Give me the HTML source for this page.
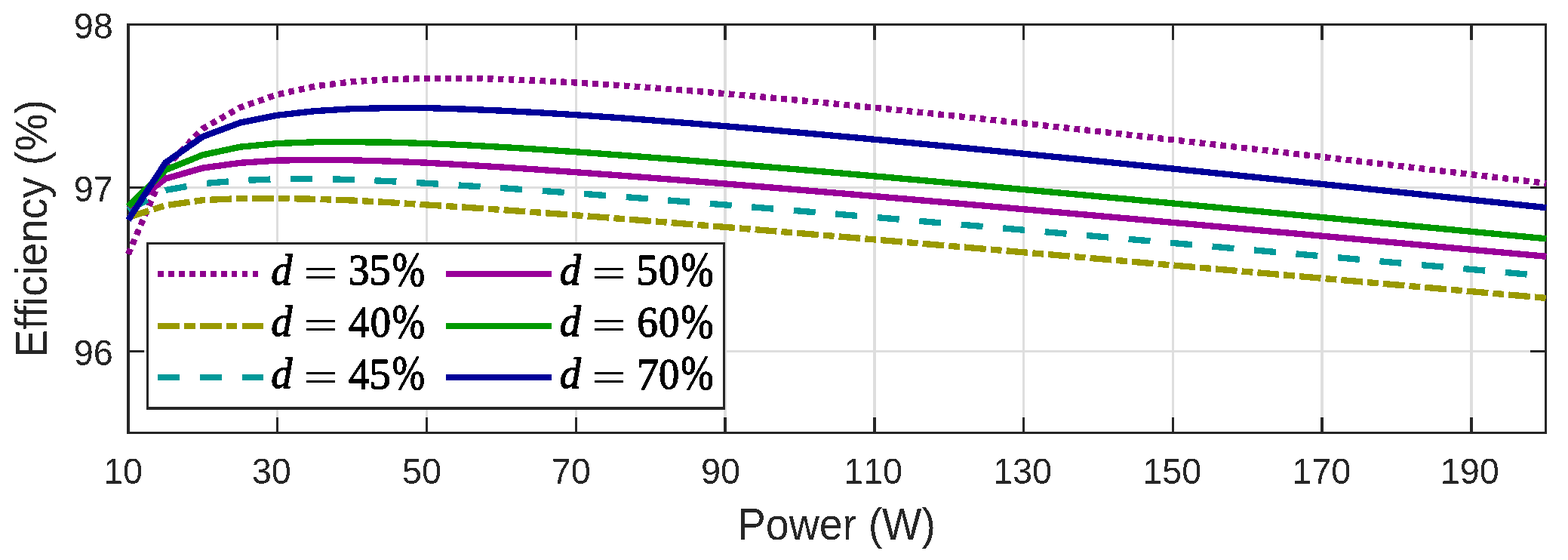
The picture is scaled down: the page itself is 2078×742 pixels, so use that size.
<!DOCTYPE html>
<html lang="en"><head><meta charset="utf-8"><title>Efficiency vs Power</title>
<style>
html,body{margin:0;padding:0;background:#fff;}
body{width:2078px;height:742px;overflow:hidden;}
svg{display:block;}
.sans{font-family:"Liberation Sans",Arial,Helvetica,sans-serif;fill:#262626;font-kerning:none;}
.math{font-family:"Liberation Serif","Times New Roman",serif;fill:#000;}
.it{font-style:italic;}
</style></head><body>
<svg width="2078" height="742" viewBox="0 0 2078 742" role="img" aria-label="Efficiency versus power for several duty cycles">
<defs><filter id="bin" x="-10%" y="-10%" width="120%" height="120%" color-interpolation-filters="sRGB"><feComponentTransfer><feFuncA type="discrete" tableValues="0 1"/></feComponentTransfer></filter></defs>
<rect width="2078" height="742" fill="#fff"/>
<g fill="#dedede" shape-rendering="crispEdges">
<rect x="366" y="34" width="3" height="538"/>
<rect x="564" y="34" width="3" height="538"/>
<rect x="762" y="34" width="3" height="538"/>
<rect x="959" y="34" width="4" height="538"/>
<rect x="1157" y="34" width="4" height="538"/>
<rect x="1355" y="34" width="3" height="538"/>
<rect x="1553" y="34" width="3" height="538"/>
<rect x="1750" y="34" width="4" height="538"/>
<rect x="1948" y="34" width="4" height="538"/>
<rect x="172" y="464" width="1875" height="3"/>
<rect x="172" y="247" width="1875" height="3"/>
</g>
<g fill="#262626" shape-rendering="crispEdges">
<rect x="168" y="31" width="4" height="544"/>
<rect x="2047" y="31" width="3" height="544"/>
<rect x="168" y="31" width="1882" height="3"/>
<rect x="168" y="572" width="1882" height="3"/>
<rect x="366" y="34" width="3" height="19"/>
<rect x="366" y="553" width="3" height="19"/>
<rect x="564" y="34" width="3" height="19"/>
<rect x="564" y="553" width="3" height="19"/>
<rect x="762" y="34" width="3" height="19"/>
<rect x="762" y="553" width="3" height="19"/>
<rect x="959" y="34" width="4" height="19"/>
<rect x="959" y="553" width="4" height="19"/>
<rect x="1157" y="34" width="4" height="19"/>
<rect x="1157" y="553" width="4" height="19"/>
<rect x="1355" y="34" width="3" height="19"/>
<rect x="1355" y="553" width="3" height="19"/>
<rect x="1553" y="34" width="3" height="19"/>
<rect x="1553" y="553" width="3" height="19"/>
<rect x="1750" y="34" width="4" height="19"/>
<rect x="1750" y="553" width="4" height="19"/>
<rect x="1948" y="34" width="4" height="19"/>
<rect x="1948" y="553" width="4" height="19"/>
<rect x="172" y="464" width="19" height="3"/>
<rect x="2028" y="464" width="19" height="3"/>
<rect x="172" y="247" width="19" height="3"/>
<rect x="2028" y="247" width="19" height="3"/>
</g>
<g fill="none" stroke-width="8.33" stroke-linejoin="miter" stroke-linecap="butt" shape-rendering="crispEdges">
<polyline points="169.95,336.82 219.39,221.64 268.84,170.46 318.28,142.35 367.73,125.22 417.17,114.37 466.61,108.29 516.06,105.21 565.5,103.9 614.95,103.77 664.39,104.92 713.83,106.89 763.28,109.49 812.72,112.59 862.17,116.11 911.61,119.97 961.05,124.1 1010.5,128.48 1059.94,133.05 1109.39,137.79 1158.83,142.68 1208.27,147.69 1257.72,152.82 1307.16,158.04 1356.61,163.35 1406.05,168.74 1455.49,174.19 1504.94,179.7 1554.38,185.26 1603.83,190.87 1653.27,196.53 1702.71,202.22 1752.16,207.95 1801.6,213.7 1851.05,219.49 1900.49,225.3 1949.93,231.14 1999.38,237 2049.32,242.94" stroke="#8c008c" stroke-dasharray="7.7 6.24"/>
<polyline points="169.95,288.05 219.39,272.23 268.84,265.15 318.28,263.05 367.73,262.87 417.17,263.78 466.61,265.49 516.06,268.2 565.5,271.46 614.95,274.55 664.39,277.96 713.83,281.53 763.28,285.24 812.72,289.04 862.17,292.93 911.61,296.89 961.05,300.91 1010.5,304.98 1059.94,309.09 1109.39,313.23 1158.83,317.4 1208.27,321.6 1257.72,325.82 1307.16,330.06 1356.61,334.31 1406.05,338.58 1455.49,342.87 1504.94,347.16 1554.38,351.47 1603.83,355.79 1653.27,360.11 1702.71,364.44 1752.16,368.78 1801.6,373.12 1851.05,377.47 1900.49,381.82 1949.93,386.17 1999.38,390.53 2049.32,394.94" stroke="#999900" stroke-dasharray="28.7 6.2 14.7 6.08"/>
<polyline points="169.95,278.39 219.39,251.99 268.84,243.27 318.28,239.14 367.73,237.23 417.17,237.02 466.61,237.98 516.06,240.14 565.5,242.79 614.95,245.93 664.39,249.12 713.83,252.52 763.28,256.09 812.72,259.79 862.17,263.59 911.61,267.49 961.05,271.45 1010.5,275.48 1059.94,279.56 1109.39,283.68 1158.83,287.84 1208.27,292.03 1257.72,296.25 1307.16,300.5 1356.61,304.76 1406.05,309.05 1455.49,313.35 1504.94,317.67 1554.38,322 1603.83,326.34 1653.27,330.69 1702.71,335.06 1752.16,339.43 1801.6,343.8 1851.05,348.19 1900.49,352.58 1949.93,356.97 1999.38,361.37 2049.32,365.82" stroke="#009999" stroke-dasharray="29.0 26.68"/>
<polyline points="169.95,274.19 219.39,236.78 268.84,222.56 318.28,215.81 367.73,212.58 417.17,211.85 466.61,212.31 516.06,213.61 565.5,215.67 614.95,218.47 664.39,221.46 713.83,224.72 763.28,228.19 812.72,231.83 862.17,235.6 911.61,239.49 961.05,243.46 1010.5,247.51 1059.94,251.63 1109.39,255.8 1158.83,260.02 1208.27,264.27 1257.72,268.57 1307.16,272.89 1356.61,277.25 1406.05,281.62 1455.49,286.02 1504.94,290.44 1554.38,294.87 1603.83,299.32 1653.27,303.78 1702.71,308.25 1752.16,312.73 1801.6,317.23 1851.05,321.73 1900.49,326.24 1949.93,330.75 1999.38,335.27 2049.32,339.85" stroke="#990099"/>
<polyline points="169.95,273.33 219.39,225.22 268.84,205.24 318.28,194.68 367.73,190.01 417.17,188.3 466.61,188.2 516.06,188.6 565.5,190.1 614.95,192.1 664.39,194.84 713.83,197.92 763.28,201.28 812.72,204.85 862.17,208.59 911.61,212.48 961.05,216.49 1010.5,220.59 1059.94,224.78 1109.39,229.04 1158.83,233.37 1208.27,237.75 1257.72,242.17 1307.16,246.64 1356.61,251.14 1406.05,255.67 1455.49,260.23 1504.94,264.81 1554.38,269.41 1603.83,274.04 1653.27,278.68 1702.71,283.34 1752.16,288.01 1801.6,292.7 1851.05,297.39 1900.49,302.1 1949.93,306.82 1999.38,311.54 2049.32,316.32" stroke="#009900"/>
<polyline points="169.95,291.47 219.39,215.49 268.84,181.03 318.28,162.58 367.73,152.71 417.17,147.14 466.61,144.18 516.06,143.05 565.5,143.09 614.95,144.61 664.39,146.64 713.83,149.22 763.28,152.23 812.72,155.59 862.17,159.22 911.61,163.09 961.05,167.14 1010.5,171.35 1059.94,175.7 1109.39,180.17 1158.83,184.73 1208.27,189.38 1257.72,194.1 1307.16,198.89 1356.61,203.74 1406.05,208.64 1455.49,213.58 1504.94,218.57 1554.38,223.58 1603.83,228.64 1653.27,233.72 1702.71,238.82 1752.16,243.95 1801.6,249.1 1851.05,254.27 1900.49,259.46 1949.93,264.66 1999.38,269.87 2049.32,275.16" stroke="#000099"/>
</g>
<g shape-rendering="crispEdges">
<rect x="194" y="321" width="767" height="222" fill="#262626"/>
<rect x="197" y="324" width="761" height="215" fill="#fff"/>
</g>
<g fill="none" stroke-width="8.33" stroke-linecap="butt" shape-rendering="crispEdges">
<line x1="209.2" y1="363.2" x2="341.6" y2="363.2" stroke="#8c008c" stroke-dasharray="7.7 6.24"/>
<line x1="209.2" y1="432" x2="349" y2="432" stroke="#999900" stroke-dasharray="28.7 6.2 14.7 6.08"/>
<line x1="209.2" y1="500" x2="349" y2="500" stroke="#009999" stroke-dasharray="29.0 26.68"/>
<line x1="591" y1="363.2" x2="730.8" y2="363.2" stroke="#990099"/>
<line x1="591" y1="432" x2="730.8" y2="432" stroke="#009900"/>
<line x1="591" y1="500" x2="730.8" y2="500" stroke="#000099"/>
</g>
<g class="math" filter="url(#bin)" stroke="#000" stroke-width="1.35" stroke-linejoin="round">
<text font-size="20"><tspan class="it" x="359.33" y="376.61" font-size="56.18" textLength="28.23" lengthAdjust="spacingAndGlyphs">d</tspan> <tspan stroke-width="0.9" x="402.57" y="380.23" font-size="54" textLength="44.87" lengthAdjust="spacingAndGlyphs">=</tspan> <tspan x="461.62" y="377.21" font-size="56.62" textLength="28.15" lengthAdjust="spacingAndGlyphs">3</tspan><tspan x="489.44" y="377.2" font-size="57.22" textLength="28.35" lengthAdjust="spacingAndGlyphs">5</tspan><tspan x="519.85" y="378.71" font-size="66.3" textLength="43.39" lengthAdjust="spacingAndGlyphs">%</tspan></text>
<text font-size="20"><tspan class="it" x="359.33" y="445.41" font-size="56.18" textLength="28.23" lengthAdjust="spacingAndGlyphs">d</tspan> <tspan stroke-width="0.9" x="402.57" y="449.03" font-size="54" textLength="44.87" lengthAdjust="spacingAndGlyphs">=</tspan> <tspan x="462.12" y="445.88" font-size="56.76" textLength="27.64" lengthAdjust="spacingAndGlyphs">4</tspan><tspan x="490.65" y="446.01" font-size="56.37" textLength="27.3" lengthAdjust="spacingAndGlyphs">0</tspan><tspan x="519.85" y="447.51" font-size="66.3" textLength="43.39" lengthAdjust="spacingAndGlyphs">%</tspan></text>
<text font-size="20"><tspan class="it" x="359.33" y="514.11" font-size="56.18" textLength="28.23" lengthAdjust="spacingAndGlyphs">d</tspan> <tspan stroke-width="0.9" x="402.57" y="517.73" font-size="54" textLength="44.87" lengthAdjust="spacingAndGlyphs">=</tspan> <tspan x="462.12" y="514.58" font-size="56.76" textLength="27.64" lengthAdjust="spacingAndGlyphs">4</tspan><tspan x="489.44" y="514.7" font-size="57.22" textLength="28.35" lengthAdjust="spacingAndGlyphs">5</tspan><tspan x="519.85" y="516.21" font-size="66.3" textLength="43.39" lengthAdjust="spacingAndGlyphs">%</tspan></text>
<text font-size="20"><tspan class="it" x="741.63" y="376.61" font-size="56.18" textLength="28.23" lengthAdjust="spacingAndGlyphs">d</tspan> <tspan stroke-width="0.9" x="784.87" y="380.23" font-size="54" textLength="44.87" lengthAdjust="spacingAndGlyphs">=</tspan> <tspan x="843.28" y="377.2" font-size="57.22" textLength="28.85" lengthAdjust="spacingAndGlyphs">5</tspan><tspan x="872.95" y="377.21" font-size="56.37" textLength="27.3" lengthAdjust="spacingAndGlyphs">0</tspan><tspan x="902.15" y="378.71" font-size="66.3" textLength="43.39" lengthAdjust="spacingAndGlyphs">%</tspan></text>
<text font-size="20"><tspan class="it" x="741.63" y="445.41" font-size="56.18" textLength="28.23" lengthAdjust="spacingAndGlyphs">d</tspan> <tspan stroke-width="0.9" x="784.87" y="449.03" font-size="54" textLength="44.87" lengthAdjust="spacingAndGlyphs">=</tspan> <tspan x="844.25" y="446.01" font-size="56.62" textLength="27.58" lengthAdjust="spacingAndGlyphs">6</tspan><tspan x="872.95" y="446.01" font-size="56.37" textLength="27.3" lengthAdjust="spacingAndGlyphs">0</tspan><tspan x="902.15" y="447.51" font-size="66.3" textLength="43.39" lengthAdjust="spacingAndGlyphs">%</tspan></text>
<text font-size="20"><tspan class="it" x="741.63" y="514.11" font-size="56.18" textLength="28.23" lengthAdjust="spacingAndGlyphs">d</tspan> <tspan stroke-width="0.9" x="784.87" y="517.73" font-size="54" textLength="44.87" lengthAdjust="spacingAndGlyphs">=</tspan> <tspan x="843.36" y="515.88" font-size="59.31" textLength="30.06" lengthAdjust="spacingAndGlyphs">7</tspan><tspan x="872.95" y="514.71" font-size="56.37" textLength="27.3" lengthAdjust="spacingAndGlyphs">0</tspan><tspan x="902.15" y="516.21" font-size="66.3" textLength="43.39" lengthAdjust="spacingAndGlyphs">%</tspan></text>
</g>
<g filter="url(#bin)">
<text class="sans" font-size="48" transform="translate(137.04 641.3) scale(0.9750 1)">10</text>
<text class="sans" font-size="48" transform="translate(333.82 641.3) scale(0.9750 1)">30</text>
<text class="sans" font-size="48" transform="translate(532.93 641.3) scale(0.9750 1)">50</text>
<text class="sans" font-size="48" transform="translate(730.81 641.3) scale(0.9750 1)">70</text>
<text class="sans" font-size="48" transform="translate(929 641.3) scale(0.9750 1)">90</text>
<text class="sans" font-size="48" transform="translate(1117.94 641.3) scale(0.9750 1)">110</text>
<text class="sans" font-size="48" transform="translate(1316.04 641.3) scale(0.9750 1)">130</text>
<text class="sans" font-size="48" transform="translate(1514.14 641.3) scale(0.9750 1)">150</text>
<text class="sans" font-size="48" transform="translate(1712.14 641.3) scale(0.9750 1)">170</text>
<text class="sans" font-size="48" transform="translate(1908.64 641.3) scale(0.9750 1)">190</text>
<text class="sans" font-size="48" transform="translate(97.8 50.95) scale(0.9750 1)">98</text>
<text class="sans" font-size="48" transform="translate(97.8 266.95) scale(0.9750 1)">97</text>
<text class="sans" font-size="48" transform="translate(97.8 483.95) scale(0.9750 1)">96</text>
<text class="sans" font-size="58.7" transform="translate(977.74 714.9) scale(0.9465 1)">Power (W)</text>
<text class="sans" font-size="58.7" transform="translate(62 473.58) rotate(-90) scale(0.9520 1)">Efficiency (%)</text>
</g>
</svg>
</body></html>
